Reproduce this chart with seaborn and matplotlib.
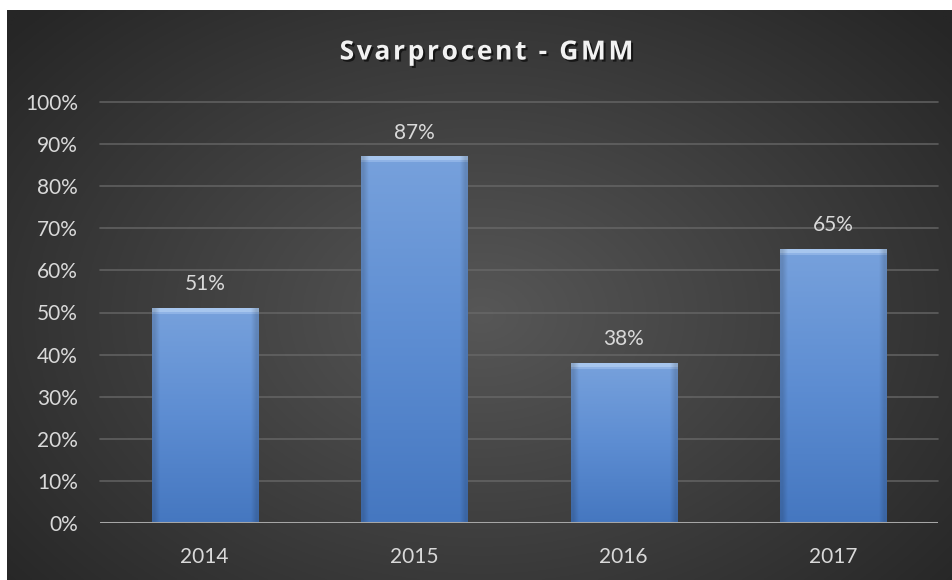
import numpy as np
import pandas as pd
import matplotlib
matplotlib.use("Agg")
import matplotlib.pyplot as plt
import matplotlib.patheffects as pe
from matplotlib.colors import LinearSegmentedColormap, to_rgb
import seaborn as sns

years = ["2014", "2015", "2016", "2017"]
rates = [0.51, 0.87, 0.38, 0.65]
y_ticks = [0.0, 0.1, 0.2, 0.3, 0.4, 0.5, 0.6, 0.7, 0.8, 0.9, 1.0]
title = "Svarprocent - GMM"

sns.set_theme(style="white")
plt.rcParams["font.family"] = ["Lato", "DejaVu Sans"]

W, H, DPI = 953, 580, 100
fig = plt.figure(figsize=(W / DPI, H / DPI), dpi=DPI, facecolor="white")

# dark radial-gradient panel
bg = fig.add_axes([7 / W, 0, (W - 7) / W, (H - 10) / H], zorder=0)
yy, xx = np.mgrid[0:300, 0:500]
cx, cy = 250, 160
r = np.sqrt(((xx - cx) / 330.0) ** 2 + ((yy - cy) / 230.0) ** 2)
r = np.clip(r, 0, 1)
c_in = np.array(to_rgb("#575757"))
c_out = np.array(to_rgb("#262626"))
img = c_in[None, None, :] * (1 - r[..., None]) + c_out[None, None, :] * r[..., None]
bg.imshow(img, aspect="auto", extent=[0, 1, 0, 1], origin="upper")
bg.set_axis_off()

ax = fig.add_axes([100 / W, 1 - 523 / H, 838 / W, 421 / H], zorder=1)
ax.patch.set_alpha(0)

df = pd.DataFrame({"year": years, "rate": rates})
sns.barplot(data=df, x="year", y="rate", color="#5b8bd0", width=0.506,
            ax=ax, zorder=2, saturation=1, edgecolor="none")

ax.set_ylim(0, 1.0)
ax.set_xlim(-0.5, 3.5)
ax.set_yticks(y_ticks)
ax.set_yticklabels([f"{int(round(t * 100))}%" for t in y_ticks])
ax.set_xlabel("")
ax.set_ylabel("")
for s in ax.spines.values():
    s.set_visible(False)
ax.tick_params(axis="both", length=0, colors="#d9d9d9", labelsize=15)
ax.tick_params(axis="y", pad=16)
ax.tick_params(axis="x", pad=17)
for t in y_ticks[1:]:
    ax.axhline(t, color="#6a6a6a", lw=1.2, zorder=1, clip_on=False, alpha=0.8)
ax.axhline(0, color="#a6a6a6", lw=2.2, zorder=4)

# gradient fill of bars
grad = LinearSegmentedColormap.from_list("g", ["#4577c0", "#5d8dd2", "#77a1dc"])
for p, v in zip(ax.patches, rates):
    x0, w, h = p.get_x(), p.get_width(), p.get_height()
    n = max(int(h * 421), 2)
    col = grad(np.linspace(1, 0, n))[:, :3]
    col[:4] = np.array(to_rgb("#a7c6ee"))
    col[4:6] = np.array(to_rgb("#8fb3e6"))
    arr = np.repeat(col[:, None, :], 20, axis=1)
    arr[:, 0, :] *= 0.85
    arr[:, -1, :] *= 0.85
    ax.imshow(arr, extent=[x0, x0 + w, 0, h], aspect="auto", zorder=3,
              interpolation="bilinear")
    ax.annotate(f"{int(round(v * 100))}%", (p.get_x() + w / 2, h),
                xytext=(0, 10), textcoords="offset points", ha="center",
                va="bottom", color="#d9d9d9", fontsize=15)
ax.set_xlim(-0.5, 3.5)
ax.set_ylim(0, 1.0)

fig.text(486 / W, 1 - 52 / H, "\u200a".join(title),
         ha="center", va="center", color="#f2f2f2", fontsize=19,
         fontweight="bold", family=["Open Sans", "DejaVu Sans"],
         path_effects=[pe.withSimplePatchShadow(offset=(1.5, -1.5),
                                                shadow_rgbFace="black",
                                                alpha=0.6)])

fig.savefig("out.png", dpi=DPI, facecolor="white")
